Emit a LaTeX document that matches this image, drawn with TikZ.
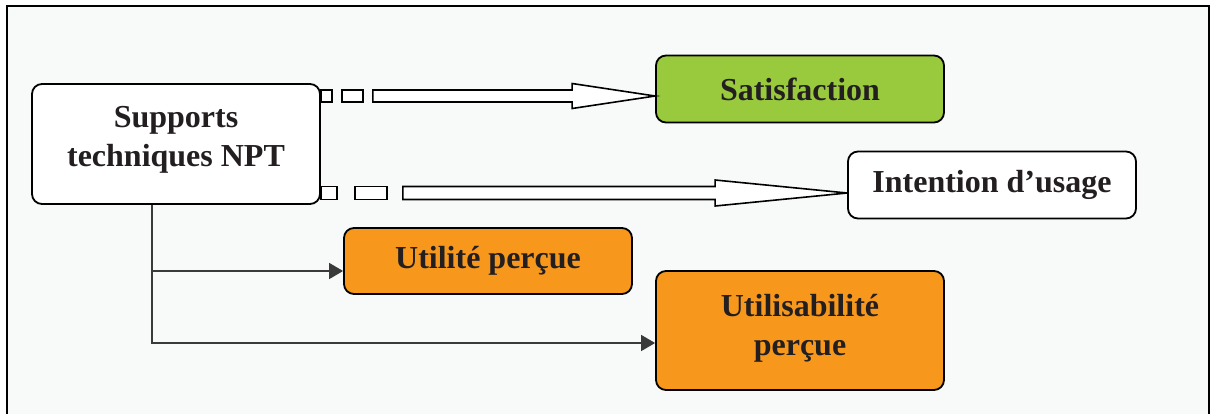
\documentclass[tikz,border=0pt]{standalone}
\usepackage{fontspec}
\setmainfont{Liberation Serif}
\usepackage{xcolor}
\usepackage{tikz}
\usetikzlibrary{arrows.meta, positioning, calc}

\definecolor{satgreen}{HTML}{99C93C}
\definecolor{perorange}{HTML}{F7981D}
\definecolor{inkdark}{HTML}{231F20}
\definecolor{paper}{HTML}{F8F9F9}
\definecolor{linkgrey}{HTML}{3A3A3A}

\begin{document}
\begin{tikzpicture}[
    x=0.5pt, y=-0.5pt,
    box/.style={rectangle, draw=black, line width=0.9pt, rounded corners=5pt, minimum width=144pt, inner sep=0pt, align=center, text=inkdark, font=\fontsize{16}{19.5}\selectfont\bfseries},
    link/.style={draw=linkgrey, line width=0.8pt, -{Triangle[length=7pt,width=8pt]}},
    hollow/.style={draw=black, line width=0.8pt, fill=white, line join=miter}
]
    \useasboundingbox (0,0) rectangle (1212,414);
    % Frame
    \fill[paper] (7,6) rectangle (1209,414);
    \draw[line width=1pt] (7,414) -- (7,6) -- (1209,6) -- (1209,414);

    % Nodes
    \node (sup) [box, fill=white, minimum height=60pt, text depth=8pt] at (176,144) {Supports\\techniques NPT};
    \node (sat) [box, fill=satgreen, minimum height=33.5pt] at (800,89) {Satisfaction};
    \node (int) [box, fill=white, minimum height=33.5pt] at (992,185) {Intention d’usage};
    \node (util) [box, fill=perorange, minimum height=33pt] at (488,261) {Utilité perçue};
    \node (usab) [box, fill=perorange, minimum height=59.5pt, text depth=6pt] at (800,330.5) {Utilisabilité\\perçue};

    % Hollow arrows
    \coordinate (a1) at ($(sup.east)+(0,-48)$);
    \coordinate (t1) at (sat.west |- a1);
    \draw[hollow] ($(a1)+(0,-6)$) rectangle ($(a1)+(11,6)$);
    \draw[hollow] ($(a1)+(21,-6)$) rectangle ($(a1)+(42,6)$);
    \draw[hollow] ($(a1)+(52,-6)$) -- ($(t1)+(-83,-6)$) -- ($(t1)+(-83,-12.5)$) -- (t1)
        -- ($(t1)+(-83,12.5)$) -- ($(t1)+(-83,6)$) -- ($(a1)+(52,6)$) -- cycle;

    \coordinate (a2) at ($(sup.east)+(0,49)$);
    \coordinate (t2) at (int.west |- a2);
    \draw[hollow] ($(a2)+(0,-6.5)$) rectangle ($(a2)+(16,6.5)$);
    \draw[hollow] ($(a2)+(34,-6.5)$) rectangle ($(a2)+(66,6.5)$);
    \draw[hollow] ($(a2)+(82,-6.5)$) -- ($(t2)+(-132,-6.5)$) -- ($(t2)+(-132,-13)$) -- (t2)
        -- ($(t2)+(-132,13)$) -- ($(t2)+(-132,6.5)$) -- ($(a2)+(82,6.5)$) -- cycle;

    % Flows
    \coordinate (split) at ($(sup.south)+(-24,0)$);
    \draw [link] (split) |- ([yshift=-5pt]util.west);
    \draw [link] (split) |- ([yshift=-6.25pt]usab.west);

\end{tikzpicture}
\end{document}
